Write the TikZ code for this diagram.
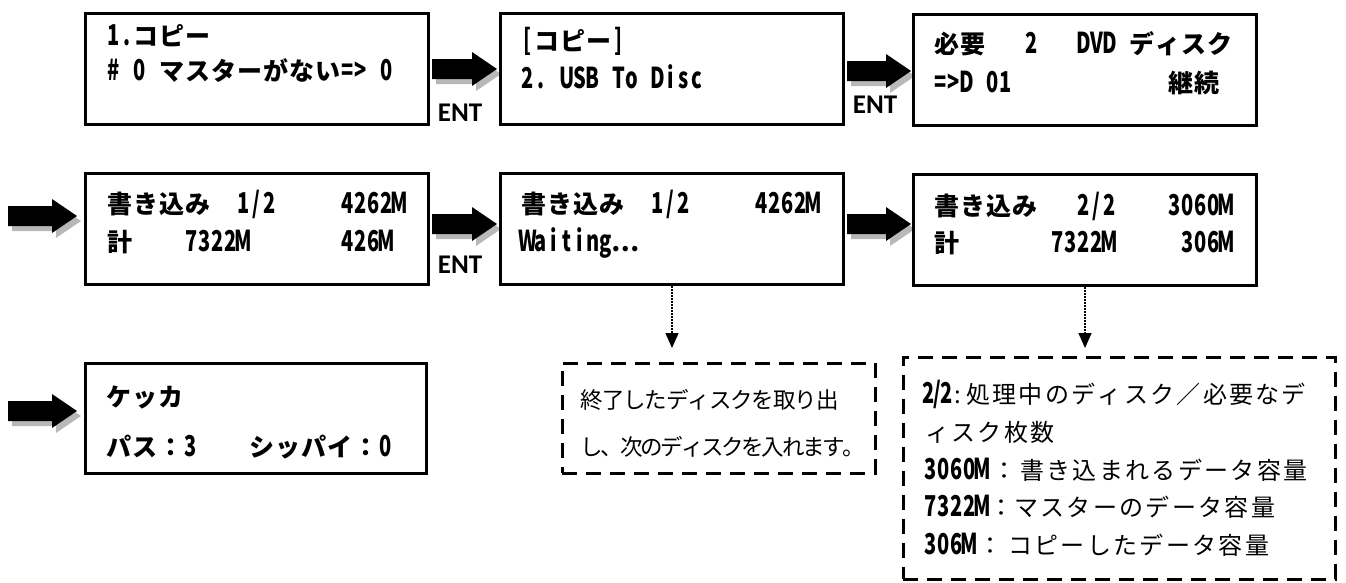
\documentclass[tikz,border=0pt]{standalone}
\usepackage{fontspec}
\usepackage{graphicx}
\usetikzlibrary{arrows.meta}
\newfontfamily\jpfont{Noto Sans CJK JP}
\newfontfamily\entfont{Carlito}
\newdimen\cellw
\def\latinglyph#1{\scalebox{0.8}[1.15]{#1}}
\def\gridchar#1{\ifx#1~\hbox to .5\cellw{}\else\ifnum`#1>255 \hbox to \cellw{\hss#1\hss}\else\hbox to .5\cellw{\hss\latinglyph{#1}\hss}\fi\fi}
\def\gridscan#1{\ifx#1\relax\else\gridchar#1\expandafter\gridscan\fi}
\newcommand\grid[2]{\cellw=#1\relax\gridscan#2\relax}
\newcommand\lcdsel{\jpfont\bfseries\fontsize{25pt}{25pt}\selectfont}
\newcommand\blockarrow[3]{%
  \fill[arrowshadow, shift={(4,5)}] (#1,#3-10) -- (#2-25,#3-10) -- (#2-25,#3-17) -- (#2,#3) -- (#2-25,#3+17) -- (#2-25,#3+10) -- (#1,#3+10) -- cycle;
  \fill[black] (#1,#3-10) -- (#2-25,#3-10) -- (#2-25,#3-17) -- (#2,#3) -- (#2-25,#3+17) -- (#2-25,#3+10) -- (#1,#3+10) -- cycle;
}
\tikzset{
  lcdbox/.style={draw, line width=3pt, minimum width=343pt, minimum height=111pt, inner sep=0pt},
  notebox/.style={draw, line width=3pt, dash pattern=on 15pt off 9pt, inner sep=0pt},
  lcdtxt/.style={anchor=base west, inner sep=0pt, font=\lcdsel},
  notetxt/.style={anchor=base west, inner sep=0pt, font=\jpfont\fontsize{24pt}{24pt}\selectfont},
  notetxtA/.style={anchor=base west, inner sep=0pt, font=\jpfont\fontsize{22.5pt}{22.5pt}\selectfont},
  colontxt/.style={anchor=base, inner sep=0pt, font=\jpfont\fontsize{24pt}{24pt}\selectfont},
  enttxt/.style={inner sep=0pt, font=\entfont\bfseries\fontsize{27pt}{27pt}\selectfont},
  dotarrow/.style={line width=1.5pt, dash pattern=on 1.5pt off 1.5pt, -{Triangle[length=15pt,width=13pt]}},
  arrowshadow/.style={fill=black!28},
}
\begin{document}
\begin{tikzpicture}[x=1pt,y=-1pt]
\useasboundingbox (0,0) rectangle (1346,582);
% block arrows
\blockarrow{432}{497}{69}
\blockarrow{847}{911}{71}
\blockarrow{8}{77}{216}
\blockarrow{432}{497}{224}
\blockarrow{847}{911}{224}
\blockarrow{8}{77}{411}
% LCD boxes
\node[lcdbox] (b1) at (257,69) {};
\node[lcdbox] (b2) at (672,69) {};
\node[lcdbox] (b3) at (1085,70) {};
\node[lcdbox] (b4) at (257,229) {};
\node[lcdbox] (b5) at (672,229) {};
\node[lcdbox] (b6) at (1085,230) {};
\node[lcdbox, minimum width=341pt, minimum height=110pt] (b7) at (256,418.5) {};
% note boxes
\node[notebox, minimum width=313pt, minimum height=110pt] (d1) at (718.5,418) {};
\node[notebox, minimum width=432pt, minimum height=222pt] (d2) at (1119,468) {};
% ENT labels
\node[enttxt] (e1) at (460,113) {ENT};
\node[enttxt] (e2) at (875,105) {ENT};
\node[enttxt] (e3) at (460,265) {ENT};
% LCD texts
\node[lcdtxt] (t1a) at (107,45) {\grid{26pt}{1.コピー}};
\node[lcdtxt] (t1b) at (107,80) {\grid{26pt}{\#~0~マスターがない=>~0}};
\node[lcdtxt] (t2a) at (521,50) {\grid{26pt}{[コピー]}};
\node[lcdtxt] (t2b) at (521,88) {\grid{26pt}{2.~USB~To~Disc}};
\node[lcdtxt] (t3a) at (934,53) {\grid{26pt}{必要~~~2~~~DVD~ディスク}};
\node[lcdtxt] (t3b) at (934,92) {\grid{26pt}{=>D~01~~~~~~~~~~~~継続}};
\node[lcdtxt] (t4a) at (107,213) {\grid{26pt}{書き込み~~1/2~~~~~4262M}};
\node[lcdtxt] (t4b) at (107,251) {\grid{26pt}{計~~~~7322M~~~~~~~426M}};
\node[lcdtxt] (t5a) at (521,213) {\grid{26pt}{書き込み~~1/2~~~~~4262M}};
\node[lcdtxt] (t5b) at (521,251) {\grid{26pt}{Waiting…}};
\node[lcdtxt] (t6a) at (934,215) {\grid{26pt}{書き込み~~~2/2~~~~3060M}};
\node[lcdtxt] (t6b) at (934,252) {\grid{26pt}{計~~~~~~~7322M~~~~~306M}};
\node[lcdtxt] (t7a) at (106,406) {\grid{26pt}{ケッカ}};
\node[lcdtxt] (t7b) at (106,456) {\grid{26pt}{パス：3~~~~シッパイ：0}};
% note 1 text
\node[notetxtA] (n1a) at (581,408) {\grid{21.4pt}{終了したディスクを取り出}};
\node[notetxtA] (n1b) at (581,455) {\grid{20.2pt}{し、次のディスクを入れます。}};
% note 2 text
\node[lcdtxt] (m1) at (924,403) {\grid{18pt}{2/2}};
\node[colontxt] (c1) at (958,403) {:};
\node[notetxt] (n2a) at (965,403) {\grid{26.3pt}{処理中のディスク／必要なデ}};
\node[notetxt] (n2b) at (924,441) {\grid{26.3pt}{ィスク枚数}};
\node[lcdtxt] (m3) at (924,479) {\grid{26pt}{3060M}};
\node[colontxt] (c3) at (1004,479) {：};
\node[notetxt] (n2c) at (1019,479) {\grid{26.3pt}{書き込まれるデータ容量}};
\node[lcdtxt] (m4) at (924,516) {\grid{26pt}{7322M}};
\node[colontxt] (c4) at (1001,516) {：};
\node[notetxt] (n2d) at (1013,516) {\grid{26.3pt}{マスターのデータ容量}};
\node[lcdtxt] (m5) at (924,554) {\grid{26pt}{306M}};
\node[colontxt] (c5) at (990,554) {：};
\node[notetxt] (n2e) at (1007,554) {\grid{26.3pt}{コピーしたデータ容量}};
% dotted arrows
\coordinate (p1) at (672,348);
\coordinate (p2) at (1085,348);
\draw[dotarrow] (b5.south) -- (p1);
\draw[dotarrow] (b6.south) -- (p2);
\end{tikzpicture}
\end{document}
